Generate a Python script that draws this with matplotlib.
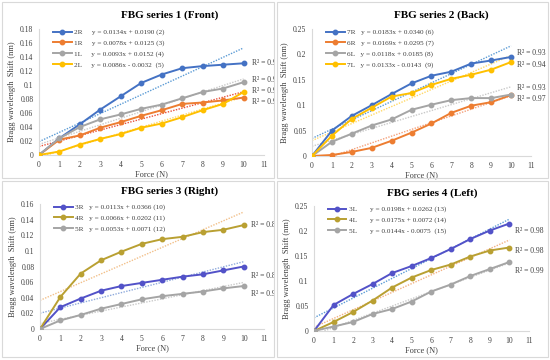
import numpy as np
import matplotlib

matplotlib.use("Agg")
import matplotlib.pyplot as plt
from matplotlib.patches import Rectangle
from matplotlib.transforms import Bbox, TransformedBbox

plt.rcParams["font.family"] = ["Liberation Serif", "DejaVu Serif"]

force = [0, 1, 2, 3, 4, 5, 6, 7, 8, 9, 10]

# series 1 (front)
s1_names = ["2R", "1R", "1L", "2L"]
s1_2R = [0, 0.024, 0.044, 0.065, 0.084, 0.103, 0.115, 0.124, 0.127, 0.129, 0.131]
s1_1R = [0, 0.022, 0.028, 0.039, 0.047, 0.056, 0.064, 0.073, 0.075, 0.078, 0.082]
s1_1L = [0, 0.024, 0.040, 0.051, 0.058, 0.066, 0.072, 0.081, 0.090, 0.095, 0.104]
s1_2L = [0, 0.005, 0.015, 0.023, 0.030, 0.039, 0.045, 0.054, 0.064, 0.073, 0.090]
s1_eqs = ["y = 0.0134x + 0.0190 (2)", "y = 0.0078x + 0.0125 (3)",
          "y = 0.0093x + 0.0152 (4)", "y = 0.0086x - 0.0032  (5)"]
s1_r2 = ["0.91", "0.96", "0.99", "0.95"]
s1_r2_y = [0.131, 0.107, 0.0915, 0.0757]

# series 2 (back)
s2_names = ["7R", "6R", "6L", "7L"]
s2_7R = [0, 0.050, 0.079, 0.100, 0.122, 0.143, 0.158, 0.166, 0.182, 0.188, 0.195]
s2_6R = [0, 0.002, 0.008, 0.016, 0.030, 0.046, 0.064, 0.085, 0.099, 0.106, 0.120]
s2_6L = [0, 0.028, 0.044, 0.060, 0.072, 0.091, 0.101, 0.110, 0.114, 0.114, 0.121]
s2_7L = [0, 0.040, 0.073, 0.095, 0.117, 0.124, 0.140, 0.152, 0.160, 0.170, 0.185]
s2_eqs = ["y = 0.0183x + 0.0340 (6)", "y = 0.0169x + 0.0295 (7)",
          "y = 0.0118x + 0.0185 (8)", "y = 0.0133x - 0.0143  (9)"]
s2_r2 = ["0.93", "0.94", "0.93", "0.97"]
s2_r2_y = [0.203, 0.179, 0.134, 0.112]

# series 3 (right)
s3_names = ["3R", "4R", "5R"]
s3_3R = [0, 0.028, 0.039, 0.049, 0.055, 0.059, 0.063, 0.067, 0.070, 0.075, 0.080]
s3_4R = [0, 0.041, 0.071, 0.088, 0.099, 0.109, 0.115, 0.118, 0.124, 0.127, 0.133]
s3_5R = [0, 0.011, 0.018, 0.026, 0.032, 0.038, 0.042, 0.045, 0.048, 0.052, 0.055]
s3_eqs = ["y = 0.0113x + 0.0366 (10)", "y = 0.0066x + 0.0202 (11)",
          "y = 0.0053x + 0.0071 (12)"]
s3_r2 = ["0.83", "0.88", "0.96"]
s3_r2_y = [0.133, 0.0678, 0.0448]

# series 4 (left)
s4_names = ["3L", "4L", "5L"]
s4_3L = [0, 0.052, 0.074, 0.094, 0.116, 0.130, 0.146, 0.164, 0.184, 0.201, 0.215]
s4_4L = [0, 0.018, 0.038, 0.061, 0.087, 0.107, 0.122, 0.133, 0.149, 0.161, 0.167]
s4_5L = [0, 0.009, 0.018, 0.034, 0.044, 0.059, 0.079, 0.093, 0.110, 0.124, 0.138]
s4_eqs = ["y = 0.0198x + 0.0262 (13)", "y = 0.0175x + 0.0072 (14)",
          "y = 0.0144x - 0.0075  (15)"]
s4_r2 = ["0.98", "0.98", "0.99"]
s4_r2_y = [0.200, 0.160, 0.120]

BLUE, ORANGE, GRAY, GOLD = "#4472C4", "#ED7D31", "#A5A5A5", "#FFC000"
INDIGO, OLIVE = "#5252C8", "#B9A032"

W, H = 550, 360
fig = plt.figure(figsize=(5.5, 3.6), dpi=100)


def px_axes(l, r, b, t):
    return fig.add_axes([l / W, 1 - b / H, (r - l) / W, (b - t) / H])


panels = [
    dict(box=(2, 2, 274, 178), ax=(39, 264, 155, 29), title="FBG series 1 (Front)",
         tpos=(170, 15), ymax=0.18, ystep=0.02,
         series=[s1_2R, s1_1R, s1_1L, s1_2L], names=s1_names, eqs=s1_eqs,
         colors=[BLUE, ORANGE, GRAY, GOLD],
         tcolors=["#5B9BD5", "#E8503A", "#C9C9C9", "#FFD966"],
         r2=s1_r2, r2y=s1_r2_y, r2x=10.4, sep="     "),
    dict(box=(277, 2, 548, 178), ax=(312, 531, 156, 29), title="FBG series 2 (Back)",
         tpos=(441, 15), ymax=0.25, ystep=0.05,
         series=[s2_7R, s2_6R, s2_6L, s2_7L], names=s2_names, eqs=s2_eqs,
         colors=[BLUE, ORANGE, GRAY, GOLD],
         tcolors=["#5B9BD5", "#F4A07A", "#C9C9C9", "#FFD966"],
         r2=s2_r2, r2y=s2_r2_y, r2x=10.3, sep="   "),
    dict(box=(2, 181, 274, 357), ax=(40, 264, 329, 204), title="FBG series 3 (Right)",
         tpos=(170, 191), ymax=0.16, ystep=0.02,
         series=[s3_3R, s3_4R, s3_5R], names=s3_names, eqs=s3_eqs,
         colors=[INDIGO, OLIVE, GRAY],
         tcolors=["#8FAADC", "#F2C08A", "#C9C9C9"],
         r2=s3_r2, r2y=s3_r2_y, r2x=10.35, sep="   "),
    dict(box=(277, 181, 548, 357), ax=(314, 529, 331, 206), title="FBG series 4 (Left)",
         tpos=(432, 193), ymax=0.25, ystep=0.05,
         series=[s4_3L, s4_4L, s4_5L], names=s4_names, eqs=s4_eqs,
         colors=[INDIGO, OLIVE, GRAY],
         tcolors=["#5B9BD5", "#F4B183", "#C9C9C9"],
         r2=s4_r2, r2y=s4_r2_y, r2x=10.3, sep="       "),
]

x = np.array(force, dtype=float)
for p in panels:
    bx0, by0, bx1, by1 = p["box"]
    fig.patches.append(Rectangle((bx0 / W, 1 - by1 / H), (bx1 - bx0) / W, (by1 - by0) / H,
                                 transform=fig.transFigure, fill=False,
                                 edgecolor="#D9D9D9", linewidth=0.8))
    clip = TransformedBbox(Bbox([[bx0 / W, 1 - by1 / H], [bx1 / W, 1 - by0 / H]]),
                           fig.transFigure)

    ax = px_axes(*p["ax"])
    for ys, name, eq, c, tc in zip(p["series"], p["names"], p["eqs"],
                                   p["colors"], p["tcolors"]):
        ys = np.array(ys)
        k, b = np.polyfit(x, ys, 1)
        ax.plot(x, k * x + b, linestyle=(0, (1, 1)), color=tc, linewidth=1.0, zorder=2)
        ax.plot(x, ys, "-o", color=c, linewidth=1.4, markersize=3.2,
                label=f"{name}{p['sep']}{eq}", zorder=3)
    for r, yy in zip(p["r2"], p["r2y"]):
        t = ax.text(p["r2x"], yy, f"R\u00b2 = {r}", fontsize=5.5, va="center",
                    ha="left", color="#404040")
        t.set_clip_box(clip)
        t.set_clip_on(True)

    ax.set_xlim(0, 11)
    ax.set_ylim(0, p["ymax"])
    ax.set_xticks(range(0, 12))
    yt = np.round(np.arange(0, p["ymax"] + 1e-9, p["ystep"]), 2)
    ax.set_yticks(yt)
    ax.set_yticklabels([f"{v:g}" for v in yt])
    ax.tick_params(length=0, labelsize=5.5, labelcolor="#404040", pad=4)
    for s in ("top", "right"):
        ax.spines[s].set_visible(False)
    for s in ("left", "bottom"):
        ax.spines[s].set_color("#D9D9D9")
        ax.spines[s].set_linewidth(0.8)
    ax.set_xlabel("Force (N)", fontsize=6, color="#404040", labelpad=1.5)
    ax.set_ylabel("Bragg wavelength  Shift (nm)", fontsize=6, color="#404040", labelpad=3)
    ax.legend(loc="upper left", bbox_to_anchor=(0.04, 1.04), frameon=False,
              fontsize=5.2, handlelength=2.6, handletextpad=0.3, labelspacing=0.6,
              borderpad=0.2, labelcolor="#404040")
    fig.text(p["tpos"][0] / W, 1 - p["tpos"][1] / H, p["title"], fontsize=8,
             fontweight="bold", ha="center", va="center", color="black")

fig.savefig("out.png", dpi=100)
